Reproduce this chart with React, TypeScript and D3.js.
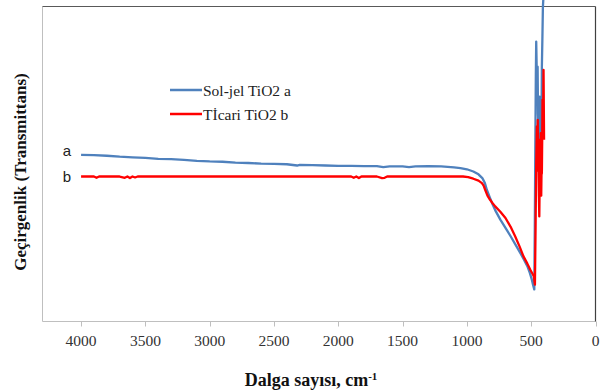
import React from "react";
import * as d3 from "d3";

// Wavenumber (cm-1) and transmittance (arbitrary units) for the sol-gel sample
const solJelX = [4000, 3900, 3800, 3700, 3600, 3500, 3400, 3300, 3200, 3100, 3000, 2900, 2800, 2700, 2600, 2500, 2400, 2320, 2300, 2200, 2100, 2000, 1900, 1800, 1700, 1650, 1600, 1500, 1450, 1400, 1300, 1200, 1100, 1050, 1000, 950, 910, 880, 860, 845, 825, 805, 775, 740, 700, 660, 620, 585, 555, 530, 510, 495, 484, 476, 472, 468, 464, 461, 457, 453, 450, 447, 443, 439, 435, 431, 427, 424, 420, 417, 413, 409, 405, 402];
const solJelY = [53.0, 52.9, 52.7, 52.4, 52.2, 52.0, 51.7, 51.6, 51.4, 51.1, 50.9, 50.8, 50.5, 50.4, 50.2, 50.1, 50.0, 49.6, 49.8, 49.7, 49.6, 49.5, 49.5, 49.4, 49.4, 49.1, 49.3, 49.3, 49.1, 49.3, 49.4, 49.3, 49.0, 48.8, 48.4, 47.7, 46.8, 45.6, 44.0, 41.9, 39.8, 37.7, 35.0, 32.4, 29.8, 27.1, 24.3, 21.8, 19.6, 17.6, 15.4, 13.3, 11.4, 10.2, 30.0, 55.0, 78.0, 89.0, 80.0, 76.0, 81.0, 66.0, 62.0, 60.0, 71.5, 58.0, 63.0, 58.8, 62.0, 81.0, 90.0, 100.0, 103.0, 103.0];

// Wavenumber (cm-1) and transmittance (arbitrary units) for the commercial sample
const ticariX = [4000, 3900, 3880, 3860, 3700, 3660, 3640, 3620, 3600, 3580, 3560, 3500, 3000, 2500, 2000, 1900, 1880, 1860, 1840, 1820, 1700, 1660, 1640, 1620, 1500, 1200, 1030, 990, 950, 910, 883, 870, 858, 840, 820, 800, 780, 740, 700, 660, 625, 590, 560, 530, 508, 490, 480, 471, 466, 461, 456, 452, 449, 446, 443, 440, 437, 434, 432, 428, 425, 422, 420, 417, 414, 412, 408, 404, 400];
const ticariY = [46.1, 46.1, 45.7, 46.1, 46.1, 45.7, 46.1, 45.6, 46.1, 45.8, 46.1, 46.1, 46.1, 46.1, 46.1, 46.1, 45.7, 46.1, 45.6, 46.1, 46.1, 45.6, 45.7, 46.1, 46.1, 46.1, 46.1, 45.9, 45.4, 44.8, 44.0, 43.2, 41.9, 40.0, 38.7, 37.6, 36.6, 34.9, 32.9, 30.1, 27.1, 23.8, 20.7, 18.4, 16.5, 15.2, 14.4, 11.7, 30.0, 50.0, 62.0, 55.0, 64.1, 48.0, 54.6, 40.0, 33.4, 45.0, 57.8, 50.0, 59.9, 40.0, 46.7, 47.2, 60.0, 70.5, 62.0, 80.0, 57.8];

const xTicks = [4000, 3500, 3000, 2500, 2000, 1500, 1000, 500, 0];

const seriesNames = ["Sol-jel TiO2 a", "Tİcari TiO2 b"];
const seriesTags = ["a", "b"];
const seriesColors = ["#4f81bd", "#ff0000"];

const W = 607;
const H = 390;
const left = 42.5;
const right = 595.5;
const top = 6.5;
const bottom = 321.5;

export default function App() {
  const x = d3.scaleLinear().domain([4300, 0]).range([left, right]);
  const y = d3.scaleLinear().domain([0, 100]).range([bottom, top + 0.5]);

  const line = d3
    .line<[number, number]>()
    .x((d) => x(d[0]))
    .y((d) => y(d[1]))
    .curve(d3.curveLinear);

  const solJel: [number, number][] = solJelX.map((v, i) => [v, solJelY[i]]);
  const ticari: [number, number][] = ticariX.map((v, i) => [v, ticariY[i]]);
  const series = [solJel, ticari];

  const serif = "'Liberation Serif', 'Times New Roman', serif";
  const sans = "'Liberation Sans', Arial, sans-serif";

  return (
    <svg
      width={W}
      height={H}
      style={{ position: "absolute", left: 0, top: 0, background: "#fff" }}
    >
      {/* frame: light axes on left/bottom, dark border on top/right */}
      <line x1={left} x2={left} y1={top} y2={bottom} stroke="#bfbfbf" strokeWidth={1} />
      <line x1={left} x2={right} y1={bottom} y2={bottom} stroke="#bfbfbf" strokeWidth={1} />
      <line x1={left} x2={right} y1={top} y2={top} stroke="#595959" strokeWidth={1} />
      <line x1={right} x2={right} y1={top} y2={bottom} stroke="#404040" strokeWidth={1.2} />

      {xTicks.map((t) => (
        <g key={t}>
          <line
            x1={Math.round(x(t)) + 0.5}
            x2={Math.round(x(t)) + 0.5}
            y1={bottom}
            y2={bottom + 5}
            stroke="#bfbfbf"
          />
          <text
            x={x(t)}
            y={345.5}
            textAnchor="middle"
            fontFamily={serif}
            fontSize={15.5}
            fill="#333"
          >
            {t}
          </text>
        </g>
      ))}

      {series.map((s, i) => (
        <path
          key={i}
          d={line(s) ?? ""}
          fill="none"
          stroke={seriesColors[i]}
          strokeWidth={2.3}
          strokeLinejoin="round"
        />
      ))}

      {/* curve tags */}
      {seriesTags.map((tag, i) => (
        <text
          key={tag}
          x={67}
          y={i === 0 ? 156 : 182}
          textAnchor="middle"
          fontFamily={sans}
          fontSize={15}
          fill="#222"
        >
          {tag}
        </text>
      ))}

      {/* legend */}
      {seriesNames.map((name, i) => (
        <g key={name} transform={`translate(170, ${90 + i * 24})`}>
          <line x1={0} x2={32} y1={0} y2={0} stroke={seriesColors[i]} strokeWidth={2.5} />
          <text x={33} y={5.5} fontFamily={serif} fontSize={15.5} fill="#222">
            {name}
          </text>
        </g>
      ))}

      {/* axis titles */}
      <text
        x={311}
        y={386}
        textAnchor="middle"
        fontFamily={serif}
        fontSize={18}
        fontWeight="bold"
        fill="#111"
      >
        Dalga sayısı, cm
        <tspan dy={-6} fontSize={11}>-1</tspan>
      </text>
      <text
        transform="translate(26, 172) rotate(-90)"
        textAnchor="middle"
        fontFamily={serif}
        fontSize={17}
        fontWeight="bold"
        fill="#111"
      >
        Geçirgenlik (Transmittans)
      </text>
    </svg>
  );
}
